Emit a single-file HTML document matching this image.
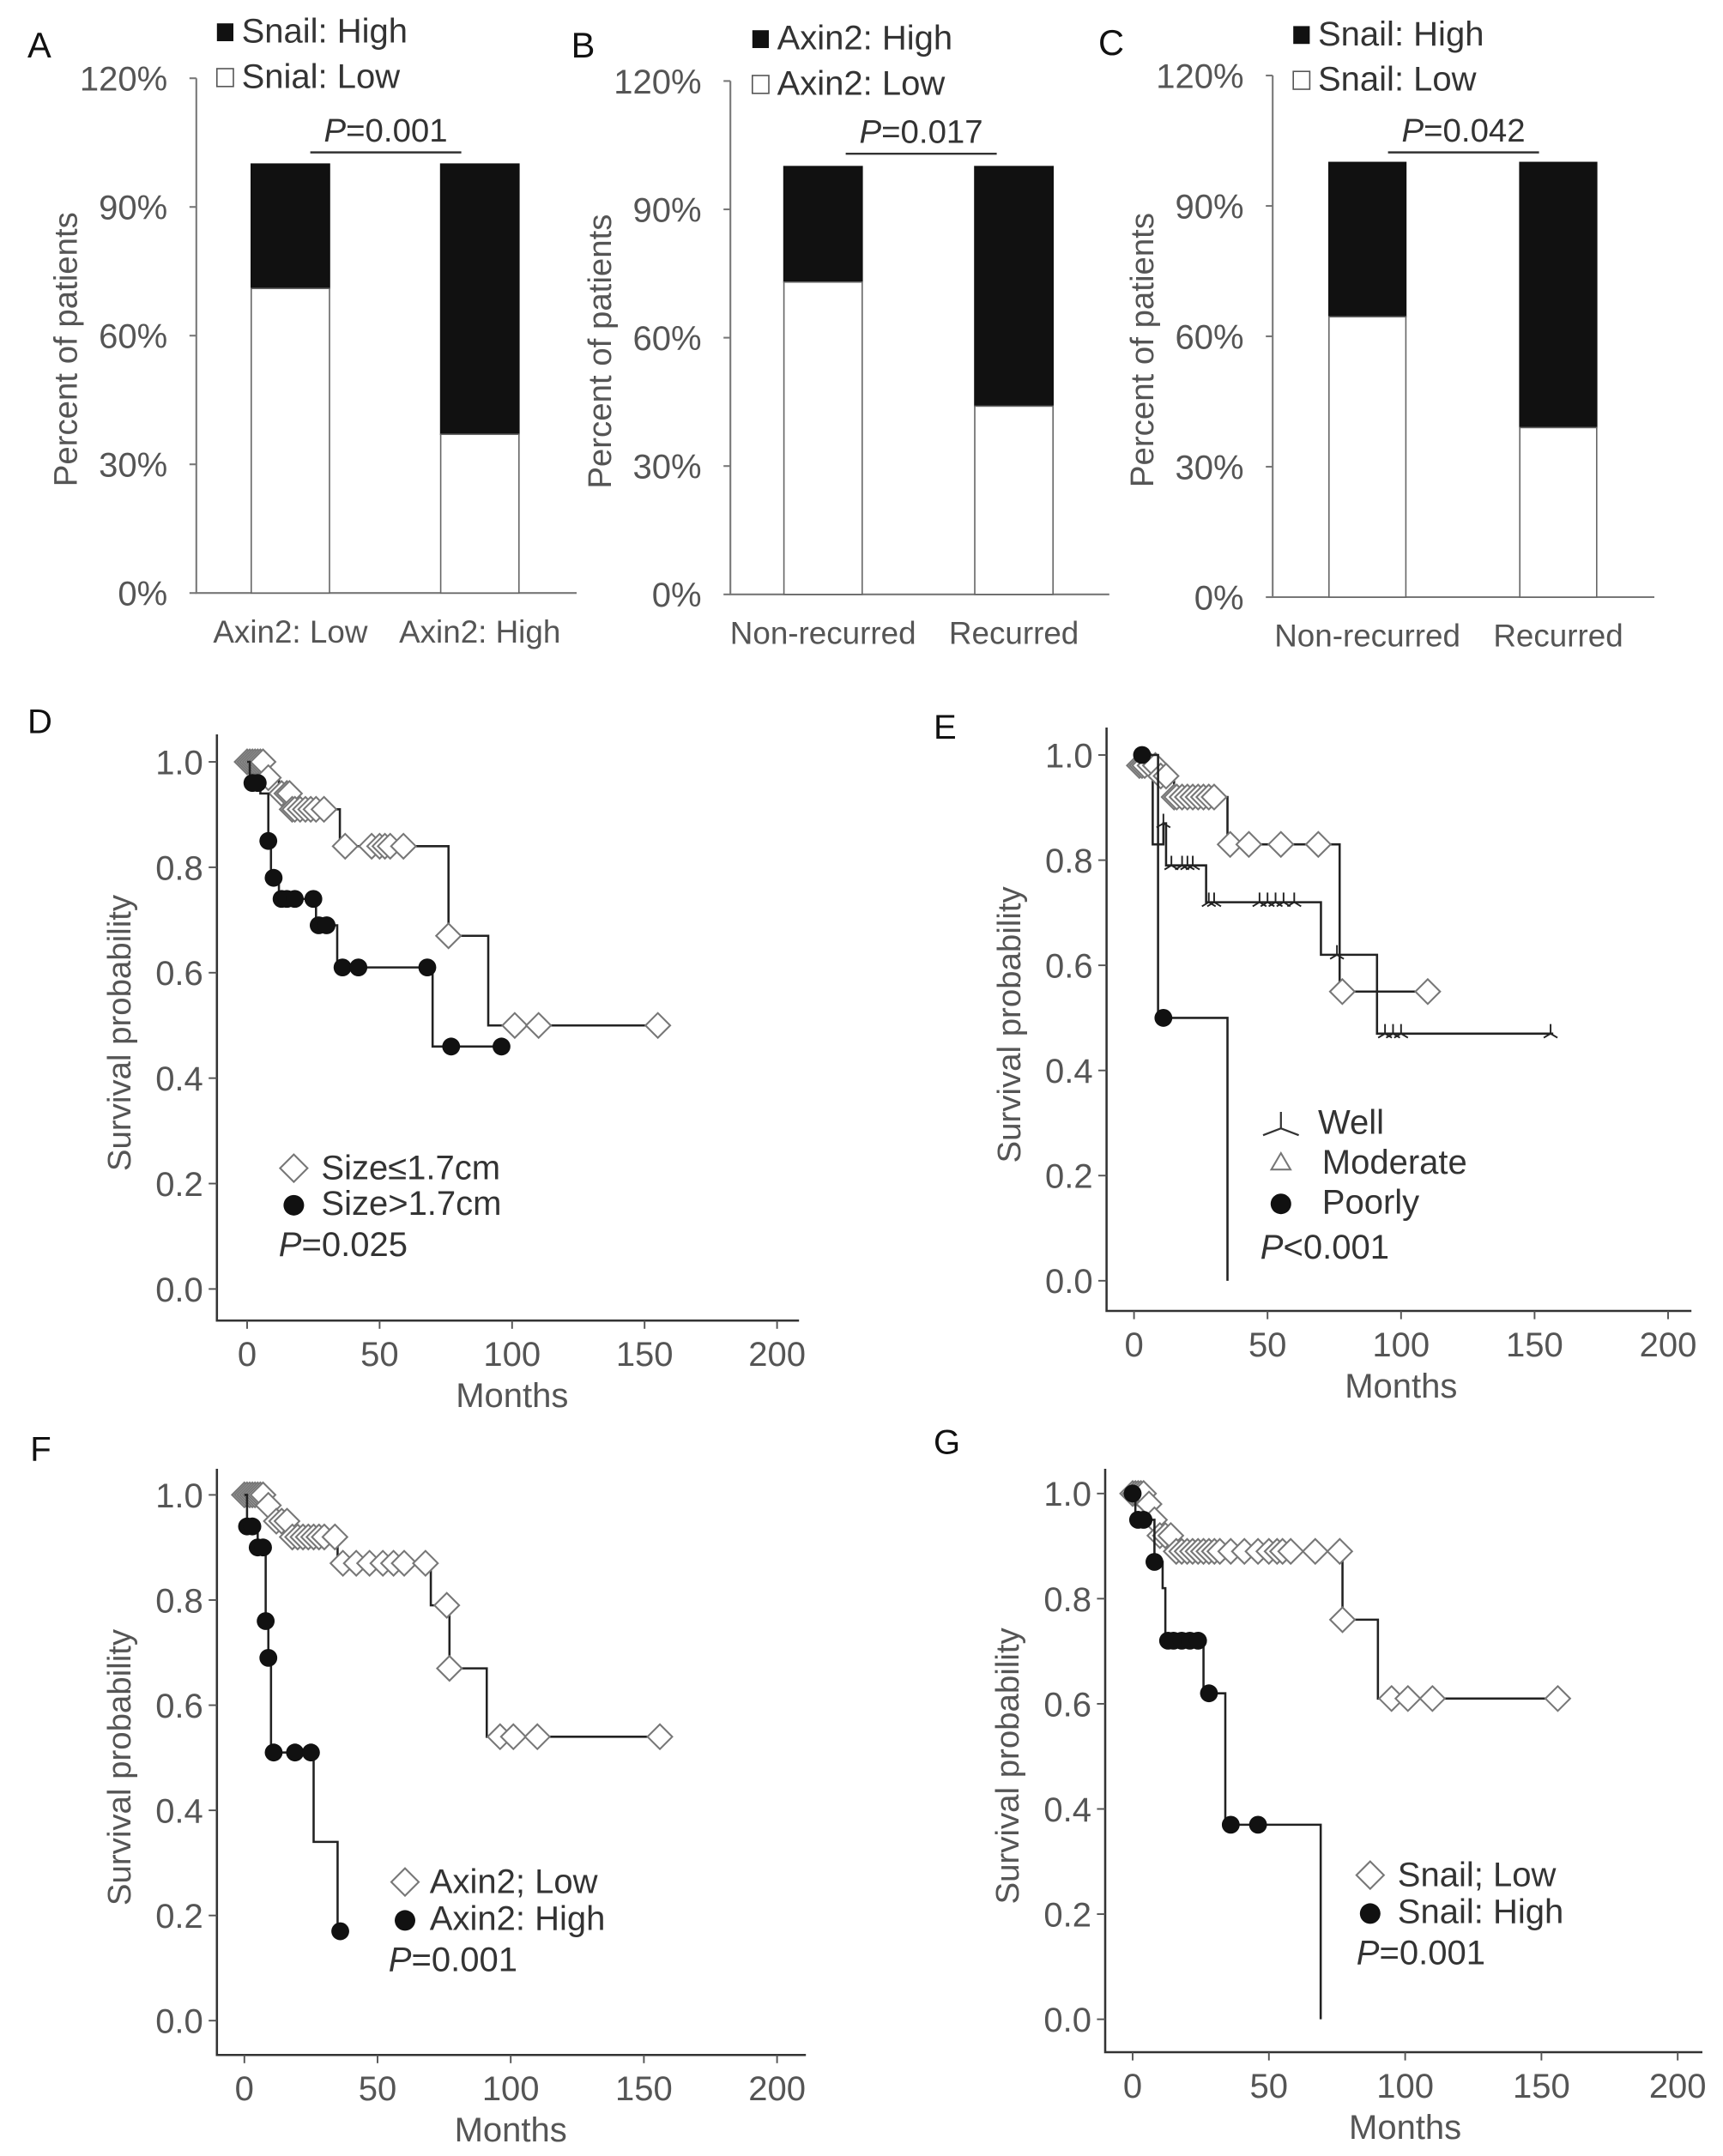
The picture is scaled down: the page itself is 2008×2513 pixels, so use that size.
<!DOCTYPE html>
<html><head><meta charset="utf-8">
<style>
html,body{margin:0;padding:0;background:#fff;}
svg{display:block;}
text{font-family:"Liberation Sans",sans-serif;}
</style></head>
<body>
<svg id="fig" width="2008" height="2513" viewBox="0 0 1255 1570.6" xmlns="http://www.w3.org/2000/svg"></svg>
<script>
// ---------- Bar chart data ----------
const barTicks = ["0%","30%","60%","90%","120%"];
const catsA = ["Axin2: Low","Axin2: High"];
const lowA = [71, 37];
const catsB = ["Non-recurred","Recurred"];
const lowB = [73, 44];
const catsC = ["Non-recurred","Recurred"];
const lowC = [64.5, 39];

// ---------- KM data ----------
const kmTicksY = ["0.0","0.2","0.4","0.6","0.8","1.0"];
const kmTicksX = ["0","50","100","150","200"];
// D
const dSmallT = [7,12,17,35,76,91];
const dSmallS = [0.97,0.94,0.91,0.84,0.67,0.50];
const dSmallEnd = 156;
const dSmallCens = [0,1,2,3,4,5,6,8,13,15,16,17,18,20,22,24,26,29,37,47,50,52,54,59,76,101,110,155];
const dLargeT = [1,5,8,9,12,26,34,70];
const dLargeS = [0.96,0.94,0.85,0.78,0.74,0.69,0.61,0.46];
const dLargeEnd = 96;
const dLargeCens = [2,4,8,10,13,15,18,25,27,30,36,42,68,77,96];
// E
const eModT = [2,10,15,35,77];
const eModS = [0.98,0.96,0.92,0.83,0.55];
const eModEnd = 110;
const eModCens = [2,3,4,6,8,10,12,15,16,18,20,22,24,26,28,30,36,43,55,69,78,110];
const eWellT = [1,7,11,12,27,70,91];
const eWellS = [0.98,0.83,0.87,0.79,0.72,0.62,0.47];
const eWellEnd = 157;
const eWellCens = [11,14,18,20,22,28,30,47,50,53,56,60,76,94,97,100,156];
const ePoorT = [9,35];
const ePoorS = [0.5,0];
const ePoorEnd = 35;
const ePoorCens = [3,11];
// F
const fLowT = [8,12,17,35,70,77,91];
const fLowS = [0.98,0.95,0.92,0.87,0.79,0.67,0.54];
const fLowEnd = 156;
const fLowCens = [0,1,2,3,4,5,6,7,9,12,14,16,18,20,22,24,26,28,30,34,37,42,47,52,56,60,68,76,77,96,101,110,156];
const fHighT = [1,5,8,9,10,26,35];
const fHighS = [0.94,0.90,0.76,0.69,0.51,0.34,0.17];
const fHighEnd = 35;
const fHighCens = [1,3,5,7,8,9,11,19,25,36];
// G
const gLowT = [5,7,10,15,77,90];
const gLowS = [0.98,0.95,0.92,0.89,0.76,0.61];
const gLowEnd = 156;
const gLowCens = [0,1,2,3,4,6,8,10,12,14,16,18,20,22,24,26,28,30,32,36,41,46,50,53,55,58,67,76,77,95,101,110,156];
const gHighT = [1,8,11,12,26,34,69];
const gHighS = [0.95,0.87,0.82,0.72,0.62,0.37,0];
const gHighEnd = 69;
const gHighCens = [0,2,4,8,13,15,18,21,24,28,36,46];

const NS = "http://www.w3.org/2000/svg";
const svg = document.getElementById("fig");
function mk(tag, attrs, parent, txt){
  const e = document.createElementNS(NS, tag);
  for (const k in attrs) e.setAttribute(k, attrs[k]);
  if (txt !== undefined) e.textContent = txt;
  (parent||svg).appendChild(e);
  return e;
}
const GRAY = "#555";

function barPanel(o){
  const g = mk("g", {});
  
  
  const ys = v => o.y0 - (v/120)*(o.y0-o.y120);
  const lab = mk("text", {x:o.lx, y:o.ly, "font-size":26, fill:"#111"}, g, o.letter);
  
  
  const ax = mk("path", {d:`M${o.ax},${o.y120} V${o.y0} H${o.xEnd}`, stroke:"#777", "stroke-width":1.3, fill:"none"}, g);
  
  
  barTicks.forEach((t,i)=>{
    const y = ys(i*30);
    mk("line",{x1:o.ax-5,x2:o.ax,y1:y,y2:y,stroke:"#777","stroke-width":1.3},g);
    const tt = mk("text",{x:o.ax-21,y:y+9,"font-size":25,"text-anchor":"end",fill:GRAY},g,t);
    
    
  });
  const yl = mk("text",{x:0,y:0,"font-size":24,"text-anchor":"middle",fill:GRAY,transform:`translate(${o.ax-87},${(o.y0+o.y120)/2+10}) rotate(-90)`},g,"Percent of patients");
  
  
  o.lows.forEach((v,i)=>{
    const x = o.bx[i];
    const hi = mk("rect",{x:x,y:ys(100),width:o.bw,height:ys(v)-ys(100),fill:"#111",stroke:"#111","stroke-width":1},g);
    
    
    const lo = mk("rect",{x:x,y:ys(v),width:o.bw,height:o.y0-ys(v),fill:"#fff",stroke:"#666","stroke-width":1},g);
    
    
    const xl = mk("text",{x:x+o.bw/2,y:o.y0+36,"font-size":23,"text-anchor":"middle",fill:GRAY},g,o.cats[i]);
    
    
  });
  mk("rect",{x:o.legx,y:o.legy1-14,width:12,height:13,fill:"#111"},g);
  const l1 = mk("text",{x:o.legx+18,y:o.legy1,"font-size":25,fill:"#333"},g,o.leg1);
  
  
  mk("rect",{x:o.legx,y:o.legy2-14,width:12,height:13,fill:"#fff",stroke:"#555","stroke-width":1},g);
  const l2 = mk("text",{x:o.legx+18,y:o.legy2,"font-size":25,fill:"#333"},g,o.leg2);
  
  
  const p = mk("text",{x:o.px,y:o.py,"font-size":24,"text-anchor":"middle",fill:"#333"},g);
  
  
  mk("tspan",{"font-style":"italic"},p,"P");
  mk("tspan",{},p,o.pval);
  mk("line",{x1:o.px-55,x2:o.px+55,y1:o.py+8,y2:o.py+8,stroke:"#333","stroke-width":1.5},g);
}

barPanel({name:"panel-a",letter:"A",lx:20,ly:42,ax:143,y0:432,y120:57,xEnd:420,bx:[183,321],bw:57,lows:lowA,cats:catsA,
  legx:158,legy1:31,legy2:64,leg1:"Snail: High",leg2:"Snial: Low",px:281,py:103,pval:"=0.001"});
barPanel({name:"panel-b",letter:"B",lx:416,ly:42,ax:532,y0:433,y120:59,xEnd:808,bx:[571,710],bw:57,lows:lowB,cats:catsB,
  legx:548,legy1:36,legy2:69,leg1:"Axin2: High",leg2:"Axin2: Low",px:671,py:104,pval:"=0.017"});
barPanel({name:"panel-c",letter:"C",lx:800,ly:40,ax:927,y0:435,y120:55,xEnd:1205,bx:[968,1107],bw:56,lows:lowC,cats:catsC,
  legx:942,legy1:33,legy2:66,leg1:"Snail: High",leg2:"Snail: Low",px:1066,py:103,pval:"=0.042"});

function kmPanel(o){
  const g = mk("g", {});
  
  
  const xs = v => o.x0 + v*(o.x200-o.x0)/200;
  const ys = v => o.y0 - v*(o.y0-o.y1);
  const lab = mk("text",{x:o.lx,y:o.ly,"font-size":25,fill:"#111"},g,o.letter);
  
  
  const ax = mk("path",{d:`M${o.ax},${o.axTop} V${o.axY} H${o.axR}`,stroke:"#333","stroke-width":1.6,fill:"none"},g);
  
  
  kmTicksY.forEach((t,i)=>{
    const y = ys(i*0.2);
    mk("line",{x1:o.ax-6,x2:o.ax,y1:y,y2:y,stroke:"#555","stroke-width":1.2},g);
    const tt = mk("text",{x:o.ax-10,y:y+9,"font-size":25,"text-anchor":"end",fill:GRAY},g,t);
    
    
  });
  kmTicksX.forEach((t,i)=>{
    const x = xs(i*50);
    mk("line",{x1:x,x2:x,y1:o.axY,y2:o.axY+6,stroke:"#555","stroke-width":1.2},g);
    const tt = mk("text",{x:x,y:o.axY+33,"font-size":25,"text-anchor":"middle",fill:GRAY},g,t);
    
    
  });
  const xt = mk("text",{x:(o.x0+o.x200)/2,y:o.axY+63,"font-size":25,"text-anchor":"middle",fill:GRAY},g,"Months");
  
  
  const yt = mk("text",{x:0,y:0,"font-size":24,"text-anchor":"middle",fill:GRAY,transform:`translate(${o.ax-63},${(o.axTop+o.axY)/2+4}) rotate(-90)`},g,"Survival probability");
  
  
  o.series.forEach(s=>{
    let d = `M${xs(0)},${ys(1)}`;
    s.t.forEach((t,i)=>{ d += ` H${xs(t)} V${ys(s.s[i])}`; });
    d += ` H${xs(s.end)}`;
    const p = mk("path",{d:d,stroke:"#222","stroke-width":1.6,fill:"none"},g);
    
    
    const surv = tm => { let v=1; s.t.forEach((t,i)=>{ if (t<=tm) v=s.s[i]; }); return v; };
    s.c.forEach(tm=>{
      const x = xs(tm), y = ys(surv(tm));
      let m;
      if (s.mark==="diamond") m = mk("path",{d:`M${x},${y-9} L${x+9},${y} L${x},${y+9} L${x-9},${y} Z`,fill:"#fff",stroke:"#777","stroke-width":1.3},g);
      else if (s.mark==="circle") m = mk("circle",{cx:x,cy:y,r:6.5,fill:"#111"},g);
      else m = mk("path",{d:`M${x},${y-7} V${y} M${x-5},${y+3} L${x},${y} L${x+5},${y+3}`,stroke:"#222","stroke-width":1.2,fill:"none"},g);
      
      
    });
  });
  o.legend.forEach((L,i)=>{
    const y = o.legY + i*o.legDy;
    let m;
    if (L.mark==="diamond") m = mk("path",{d:`M${o.legX},${y-10} L${o.legX+10},${y} L${o.legX},${y+10} L${o.legX-10},${y} Z`,fill:"#fff",stroke:"#777","stroke-width":1.3},g);
    else if (L.mark==="circle") m = mk("circle",{cx:o.legX,cy:y+1,r:7.5,fill:"#111"},g);
    else if (L.mark==="tri") m = mk("path",{d:`M${o.legX},${y-7} L${o.legX+7},${y+5} L${o.legX-7},${y+5} Z`,fill:"#fff",stroke:"#777","stroke-width":1.3},g);
    else m = mk("path",{d:`M${o.legX},${y-8} V${y+4} M${o.legX-13},${y+9} L${o.legX},${y+4} L${o.legX+13},${y+9}`,stroke:"#333","stroke-width":1.4,fill:"none"},g);
    
    
    const t = mk("text",{x:o.legX+L.dx,y:y+8,"font-size":25,fill:"#333"},g,L.label);
    
    
  });
  const p = mk("text",{x:o.pX,y:o.pY,"font-size":25,fill:"#333"},g);
  
  
  mk("tspan",{"font-style":"italic"},p,"P");
  mk("tspan",{},p,o.pval);
}

kmPanel({name:"panel-d",letter:"D",lx:20,ly:534,ax:158,axTop:535,axY:962,axR:582,x0:180,x200:566,y0:939,y1:555,
  series:[{name:"size-small",t:dSmallT,s:dSmallS,end:dSmallEnd,c:dSmallCens,mark:"diamond"},
          {name:"size-large",t:dLargeT,s:dLargeS,end:dLargeEnd,c:dLargeCens,mark:"circle"}],
  legend:[{mark:"diamond",label:"Size≤1.7cm",dx:20},{mark:"circle",label:"Size>1.7cm",dx:20}],
  legX:214,legY:851,legDy:26,pX:203,pY:915,pval:"=0.025"});
kmPanel({name:"panel-e",letter:"E",lx:680,ly:538,ax:806,axTop:530,axY:955,axR:1232,x0:826,x200:1215,y0:933,y1:550,
  series:[{name:"well",t:eWellT,s:eWellS,end:eWellEnd,c:eWellCens,mark:"well"},
          {name:"moderate",t:eModT,s:eModS,end:eModEnd,c:eModCens,mark:"diamond"},
          {name:"poorly",t:ePoorT,s:ePoorS,end:ePoorEnd,c:ePoorCens,mark:"circle"}],
  legend:[{mark:"well",label:"Well",dx:27},{mark:"tri",label:"Moderate",dx:30},{mark:"circle",label:"Poorly",dx:30}],
  legX:933,legY:818,legDy:29,pX:918,pY:917,pval:"<0.001"});
kmPanel({name:"panel-f",letter:"F",lx:22,ly:1064,ax:158,axTop:1070,axY:1497,axR:587,x0:178,x200:566,y0:1472,y1:1089,
  series:[{name:"axin2-low",t:fLowT,s:fLowS,end:fLowEnd,c:fLowCens,mark:"diamond"},
          {name:"axin2-high",t:fHighT,s:fHighS,end:fHighEnd,c:fHighCens,mark:"circle"}],
  legend:[{mark:"diamond",label:"Axin2; Low",dx:18},{mark:"circle",label:"Axin2: High",dx:18}],
  legX:295,legY:1371,legDy:27,pX:283,pY:1436,pval:"=0.001"});
kmPanel({name:"panel-g",letter:"G",lx:680,ly:1059,ax:805,axTop:1070,axY:1495,axR:1240,x0:825,x200:1222,y0:1471,y1:1088,
  series:[{name:"snail-low",t:gLowT,s:gLowS,end:gLowEnd,c:gLowCens,mark:"diamond"},
          {name:"snail-high",t:gHighT,s:gHighS,end:gHighEnd,c:gHighCens,mark:"circle"}],
  legend:[{mark:"diamond",label:"Snail; Low",dx:20},{mark:"circle",label:"Snail: High",dx:20}],
  legX:998,legY:1366,legDy:27,pX:988,pY:1431,pval:"=0.001"});
</script>
</body></html>
